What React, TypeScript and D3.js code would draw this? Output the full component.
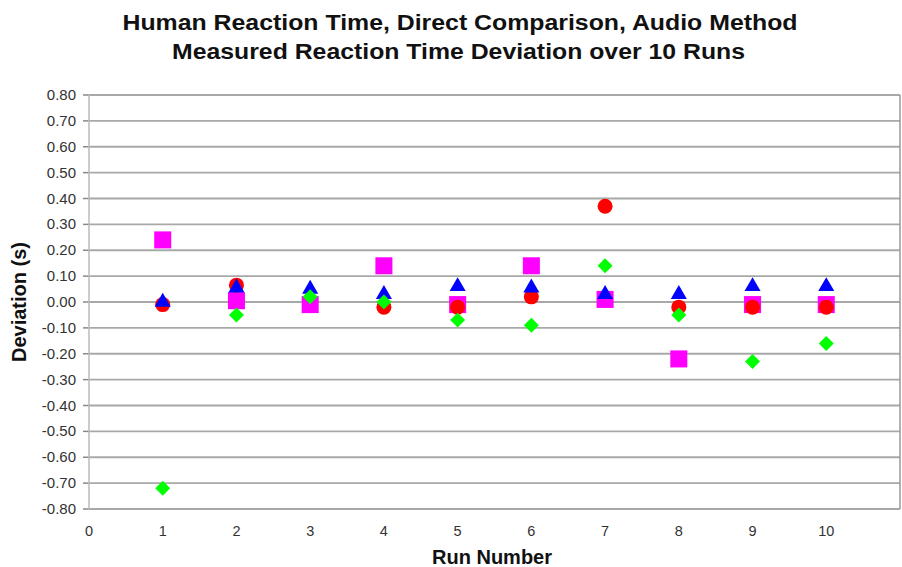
import React from "react";
import * as d3 from "d3";

const runs = [1, 2, 3, 4, 5, 6, 7, 8, 9, 10];
const squareVals = [0.24, 0.005, -0.01, 0.14, -0.01, 0.14, 0.01, -0.22, -0.01, -0.01];
const circleVals: (number | null)[] = [-0.01, 0.065, null, -0.02, -0.02, 0.02, 0.37, -0.02, -0.02, -0.02];
const triangleVals = [0.0, 0.055, 0.05, 0.03, 0.06, 0.055, 0.03, 0.03, 0.06, 0.06];
const diamondVals = [-0.72, -0.05, 0.02, 0.0, -0.07, -0.09, 0.14, -0.05, -0.23, -0.16];
const yTicks = d3.range(-8, 9).map((v) => v / 10);
const xTicks = d3.range(0, 11);

const W = 902;
const H = 567;
const left = 89;
const right = 900;
const top = 95;
const bottom = 509;

export default function App() {
  const x = d3.scaleLinear().domain([0, 11]).range([left, right]);
  const y = d3.scaleLinear().domain([-0.8, 0.8]).range([bottom, top]);
  const font = "'Liberation Sans', Arial, sans-serif";
  const sym = (type: d3.SymbolType, size: number) => d3.symbol().type(type).size(size)()!;
  const squarePath = sym(d3.symbolSquare, 290);
  const circlePath = sym(d3.symbolCircle, 177);
  const trianglePath = sym(d3.symbolTriangle, 112);
  const diamondPath = sym(d3.symbolSquare, 112);

  return (
    <svg width={W} height={H} style={{ position: "absolute", left: 0, top: 0, background: "#fff" }}>
      <text x={460} y={29.5} textAnchor="middle" fontFamily={font} fontWeight="bold" fontSize={22.5} fill="#111"
        textLength={675} lengthAdjust="spacingAndGlyphs">
        Human Reaction Time, Direct Comparison, Audio Method
      </text>
      <text x={458.5} y={58.5} textAnchor="middle" fontFamily={font} fontWeight="bold" fontSize={21.5} fill="#111"
        textLength={573} lengthAdjust="spacingAndGlyphs">
        Measured Reaction Time Deviation over 10 Runs
      </text>
      {yTicks.map((t) => (
        <g key={t}>
          <line x1={left} x2={right} y1={y(t)} y2={y(t)} stroke="#a8a8a8" strokeWidth={1.8} />
          <line x1={left - 6} x2={left} y1={y(t)} y2={y(t)} stroke="#888" strokeWidth={1.5} />
          <text x={76} y={y(t) + 5} textAnchor="end" fontFamily={font} fontSize={15} fill="#333">
            {t.toFixed(2)}
          </text>
        </g>
      ))}
      <line x1={left} x2={left} y1={top} y2={bottom} stroke="#bbbbbb" strokeWidth={1.5} />
      <line x1={right} x2={right} y1={top} y2={bottom} stroke="#999" strokeWidth={1.5} />
      {xTicks.map((t) => (
        <text key={t} x={x(t)} y={536} textAnchor="middle" fontFamily={font} fontSize={14.5} fill="#333">
          {t}
        </text>
      ))}
      <text x={492} y={564} textAnchor="middle" fontFamily={font} fontWeight="bold" fontSize={20} fill="#111">
        Run Number
      </text>
      <text
        transform={`translate(26,${y(0)}) rotate(-90)`}
        textAnchor="middle"
        fontFamily={font}
        fontWeight="bold"
        fontSize={20}
        fill="#111"
      >
        Deviation (s)
      </text>
      {runs.map((r, i) => (
        <path key={"s" + r} d={squarePath} transform={`translate(${x(r)},${y(squareVals[i])})`} fill="#ff00ff" />
      ))}
      {runs.map((r, i) =>
        circleVals[i] === null ? null : (
          <path key={"c" + r} d={circlePath} transform={`translate(${x(r)},${y(circleVals[i] as number)})`} fill="#ff0000" />
        )
      )}
      {runs.map((r, i) => (
        <path key={"t" + r} d={trianglePath} transform={`translate(${x(r)},${y(triangleVals[i])})`} fill="#0000ff" />
      ))}
      {runs.map((r, i) => (
        <path key={"d" + r} d={diamondPath} transform={`translate(${x(r)},${y(diamondVals[i])}) rotate(45)`} fill="#00ff00" />
      ))}
    </svg>
  );
}
